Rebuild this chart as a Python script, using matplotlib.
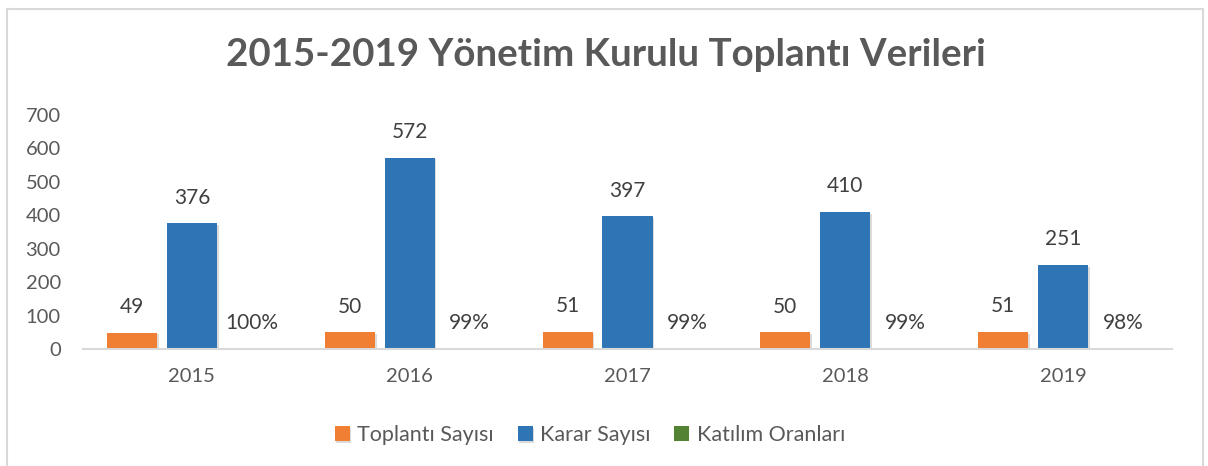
import numpy as np
import matplotlib.pyplot as plt
from matplotlib.lines import Line2D
import matplotlib.patheffects as pe

# veriler
years = ['2015', '2016', '2017', '2018', '2019']
toplanti = [49, 50, 51, 50, 51]
karar = [376, 572, 397, 410, 251]
katilim = [1.00, 0.99, 0.99, 0.99, 0.98]
series_names = ['Toplantı Sayısı', 'Karar Sayısı', 'Katılım Oranları']

plt.rcParams['font.family'] = ['Lato', 'DejaVu Sans']

fig = plt.figure(figsize=(12.08, 4.66), dpi=100)
ax = fig.add_axes([83/1208, 117/466, 1089/1208, 234/466])

x = np.arange(len(years))
w = 0.23
off = 0.275
shadow = [pe.SimplePatchShadow(offset=(1.2, -1.2), shadow_rgbFace='#000000', alpha=0.14), pe.Normal()]

b1 = ax.bar(x - off, toplanti, w, color='#F07F34', label=series_names[0], path_effects=shadow)
b2 = ax.bar(x, karar, w, color='#2E75B6', label=series_names[1], path_effects=shadow)
b3 = ax.bar(x + off, katilim, w, color='#548235', label=series_names[2])

lbl = dict(textcoords='offset points', ha='center', va='center', fontsize=15, color='#404040')
for i in range(len(years)):
    ax.annotate(str(toplanti[i]), (x[i] - off, toplanti[i]), xytext=(0, 18.5), **lbl)
    ax.annotate(str(karar[i]), (x[i], karar[i]), xytext=(0, 18.5), **lbl)
    ax.annotate('{:.0f}%'.format(katilim[i] * 100), (x[i] + off, katilim[i]), xytext=(0, 18.5), **lbl)

ax.set_xlim(-0.5, 4.5)
ax.set_ylim(0, 700)
ax.set_yticks(range(0, 701, 100))
ax.set_xticks(x)
ax.set_xticklabels(years)
ax.tick_params(axis='both', length=0, labelsize=14.5, labelcolor='#595959')
ax.tick_params(axis='x', pad=14)
ax.tick_params(axis='y', pad=16)
for s in ['top', 'right', 'left']:
    ax.spines[s].set_visible(False)
ax.spines['bottom'].set_color('#D9D9D9')
ax.spines['bottom'].set_linewidth(1.5)

fig.text(606/1208, 1 - 55/466, '2015-2019 Yönetim Kurulu Toplantı Verileri', ha='center', va='center',
         fontsize=27.7, fontweight='bold', color='#595959')

fig.legend(handles=[b1, b2, b3], labels=series_names, loc='center', bbox_to_anchor=(590/1208, 1 - 435/466),
           ncol=3, frameon=False, fontsize=15.5, handlelength=0.7, handleheight=0.7, handletextpad=0.35,
           columnspacing=1.1, labelcolor='#595959')

# cerceve
bc = '#D9D9D9'
fig.add_artist(Line2D([7/1208, 7/1208], [0, 1 - 8.5/466], color=bc, lw=1.5, transform=fig.transFigure))
fig.add_artist(Line2D([7/1208, 1203/1208], [1 - 8.5/466, 1 - 8.5/466], color=bc, lw=1.5, transform=fig.transFigure))
fig.add_artist(Line2D([1203/1208, 1203/1208], [0, 1 - 8.5/466], color=bc, lw=1.5, transform=fig.transFigure))

fig.savefig('out.png', dpi=100, facecolor='white')
